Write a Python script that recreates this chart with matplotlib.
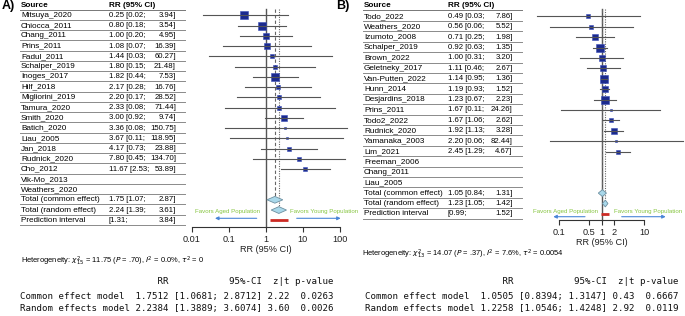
import matplotlib
matplotlib.use('Agg')
import matplotlib.pyplot as plt
from matplotlib.patches import Polygon
from matplotlib.ticker import NullLocator

# ---------------- data ----------------
studies_A = ["Mitsuya_2020", "Chiocca_2011", "Chang_2011", "Prins_2011", "Fadul_2011",
             "Schalper_2019", "Inoges_2017", "Hilf_2018", "Migliorini_2019", "Tamura_2020",
             "Smith_2020", "Batich_2020", "Liau_2005", "Jan_2018", "Rudnick_2020", "Cho_2012"]
rr_A = [0.25, 0.80, 1.00, 1.08, 1.44, 1.80, 1.82, 2.17, 2.20, 2.33, 3.00, 3.36, 3.67, 4.17, 7.80, 11.67]
lo_A = [0.02, 0.18, 0.20, 0.07, 0.03, 0.15, 0.44, 0.28, 0.17, 0.08, 0.92, 0.08, 0.11, 0.73, 0.45, 2.53]
hi_A = [3.94, 3.54, 4.95, 16.39, 60.27, 21.48, 7.53, 16.76, 28.52, 71.44, 9.74, 150.75, 118.95, 23.88, 134.70, 53.89]
weight_A = [16.0, 12.3, 9.0, 6.3, 2.8, 4.0, 13.5, 4.6, 4.0, 2.3, 8.1, 1.8, 1.8, 3.4, 2.3, 2.3]
empty_A = ["Vik-Mo_2013", "Weathers_2020"]
common_A = (1.75, 1.07, 2.87)
random_A = (2.24, 1.39, 3.61)
pred_A = (1.31, 3.84)
het_A = r"Heterogeneity: $\chi^2_{15}$ = 11.75 ($P$ = .70), $I^2$ = 0.0%, $\tau^2$ = 0"
ticks_A = [0.01, 0.1, 1, 10, 100]
ticklabels_A = ["0.01", "0.1", "1", "10", "100"]
summary_A = ["                         RR           95%-CI  z|t p-value",
             "Common effect model  1.7512 [1.0681; 2.8712] 2.22  0.0263",
             "Random effects model 2.2384 [1.3889; 3.6074] 3.60  0.0026"]

studies_B = ["Todo_2022", "Weathers_2020", "Izumoto_2008", "Schalper_2019", "Brown_2022",
             "Geletneky_2017", "Van-Putten_2022", "Hunn_2014", "Desjardins_2018", "Prins_2011",
             "Todo2_2022", "Rudnick_2020", "Yamanaka_2003", "Lim_2021"]
rr_B = [0.49, 0.56, 0.71, 0.92, 1.00, 1.11, 1.14, 1.19, 1.23, 1.67, 1.67, 1.92, 2.20, 2.45]
lo_B = [0.03, 0.06, 0.25, 0.63, 0.31, 0.46, 0.95, 0.93, 0.67, 0.11, 1.06, 1.13, 0.06, 1.29]
hi_B = [7.86, 5.52, 1.98, 1.35, 3.20, 2.67, 1.36, 1.52, 2.23, 24.26, 2.62, 3.28, 82.44, 4.67]
weight_B = [4.0, 4.6, 9.0, 16.0, 6.3, 7.0, 11.2, 8.1, 13.3, 1.3, 4.6, 6.3, 1.3, 4.0]
empty_B = ["Freeman_2006", "Chang_2011", "Liau_2005"]
common_B = (1.05, 0.84, 1.31)
random_B = (1.23, 1.05, 1.42)
pred_B = (0.99, 1.52)
het_B = r"Heterogeneity: $\chi^2_{13}$ = 14.07 ($P$ = .37), $I^2$ = 7.6%, $\tau^2$ = 0.0054"
ticks_B = [0.1, 0.5, 1, 2, 10]
ticklabels_B = ["0.1", "0.5", "1", "2", "10"]
summary_B = ["                         RR           95%-CI  z|t p-value",
             "Common effect model  1.0505 [0.8394; 1.3147] 0.43  0.6667",
             "Random effects model 1.2258 [1.0546; 1.4248] 2.92  0.0119"]

# ---------------- layout ----------------
W, H = 685, 316
fig = plt.figure(figsize=(W / 100, H / 100), dpi=100)
ov = fig.add_axes([0, 0, 1, 1])
ov.set_xlim(0, W)
ov.set_ylim(H, 0)
ov.axis('off')

SANS = ['Liberation Sans', 'DejaVu Sans']
FS = 5.85
FSN = 5.6
SQ_COL = '#1b2a8e'
DIA_COL = '#a9d8ea'
GREEN = '#86c540'
ARROW = '#4a86d8'


def panel(label, lx, tx0, rrx, rrend, lend, y0, pitch, yaxis, studies, rr, lo, hi, w, empty,
          common, random_, pred, het, hetxy, summ, sumx,
          fx0, fx1, lim, ticks, ticklabels, favors):
    def rowy(i):
        return y0 + pitch * i

    ov.text(lx, 6, label, fontsize=9, fontweight='bold', family=SANS, va='center', ha='left')
    ov.text(tx0, 5.7, "Source", fontsize=FS, fontweight='bold', family=SANS, va='center')
    ov.text(rrx, 5.7, "RR (95% CI)", fontsize=FS, fontweight='bold', family=SANS, va='center')
    ov.plot([tx0 - 1, lend], [10.2, 10.2], color='#777777', lw=0.7)
    names = list(studies) + list(empty) + ["Total (common effect)", "Total (random effect)",
                                          "Prediction interval"]
    n = len(studies)
    for i, nm in enumerate(names):
        y = rowy(i)
        ov.text(tx0, y, nm, fontsize=FS, family=SANS, va='center')
        ov.plot([tx0 - 1, lend], [y + 4.6, y + 4.6], color='#8a8a8a', lw=0.7)
    allvals = [(i, rr[i], lo[i], hi[i]) for i in range(n)]
    allvals += [(n + len(empty), *common), (n + len(empty) + 1, *random_)]
    for i, r, l, h in allvals:
        y = rowy(i)
        ov.text(rrx, y, f"{r:.2f} [{l:.2f};", fontsize=FSN, family=SANS, va='center')
        ov.text(rrend, y, f"{h:.2f}]", fontsize=FSN, family=SANS, va='center', ha='right')
    ip = n + len(empty) + 2
    ov.text(rrx, rowy(ip), f"[{pred[0]:.2f};", fontsize=FSN, family=SANS, va='center')
    ov.text(rrend, rowy(ip), f"{pred[1]:.2f}]", fontsize=FSN, family=SANS, va='center', ha='right')

    # forest axes
    ybot = yaxis
    ax = fig.add_axes([fx0 / W, (H - ybot) / H, (fx1 - fx0) / W, ybot / H])
    ax.set_xscale('log')
    ax.set_xlim(*lim)
    ax.set_ylim(ybot, 0)
    ax.patch.set_alpha(0)
    for s in ['top', 'left', 'right']:
        ax.spines[s].set_visible(False)
    ax.spines['bottom'].set_color('#333333')
    ax.spines['bottom'].set_linewidth(0.8)
    ax.set_yticks([])
    ax.set_xticks(ticks)
    ax.set_xticklabels(ticklabels)
    ax.xaxis.set_minor_locator(NullLocator())
    ax.tick_params(axis='x', direction='out', length=3.6, width=0.8, colors='#333333',
                   labelsize=6.6, pad=2.4, labelcolor='#222222')
    for t in ax.get_xticklabels():
        t.set_family(SANS)
    ax.set_xlabel("RR (95% CI)", fontsize=6.6, family=SANS, labelpad=0.6, color='#222222')

    ic = n + len(empty)
    ax.plot([1, 1], [9, ybot], color='#555555', lw=1.0, clip_on=False, zorder=1)
    ax.plot([common[0]] * 2, [9, rowy(ic) - 3.3], color='#666666', lw=0.8,
            ls=(0, (3, 2)), clip_on=False, zorder=1)
    ax.plot([random_[0]] * 2, [9, rowy(ic + 1) - 3.3], color='#666666', lw=0.8,
            ls=(0, (1, 1.2)), clip_on=False, zorder=1)

    wmax = max(w)
    for i in range(n):
        y = rowy(i)
        side = 8.4 * (w[i] / wmax) ** 0.5
        ax.plot([rr[i]], [y], marker='s', ms=side * 0.72, color=SQ_COL, mec='#3b4fb8', mew=0.4,
                clip_on=False, zorder=3)
        ax.plot([lo[i], hi[i]], [y, y], color='#555555', lw=0.8, clip_on=False, zorder=4)
    for k, (e, l, h) in enumerate([common, random_]):
        y = rowy(ic + k)
        poly = Polygon([[l, y], [e, y - 3.4], [h, y], [e, y + 3.4]], closed=True,
                       facecolor=DIA_COL, edgecolor='#6d8fa0', lw=0.6, clip_on=False, zorder=3)
        ax.add_patch(poly)
    ax.plot([pred[0], pred[1]], [rowy(ip)] * 2, color='#cc2a24', lw=2.0, clip_on=False,
            solid_capstyle='butt', zorder=3)

    # favors annotations
    (ta, ax0a, ax1a), (tb, bx0, bx1), fy, ay = favors
    ov.text(ta, fy, "Favors Aged Population", fontsize=4.4, color=GREEN, family=SANS,
            va='center', ha='center')
    ov.text(tb, fy, "Favors Young Population", fontsize=4.4, color=GREEN, family=SANS,
            va='center', ha='left')
    ov.annotate('', xy=(ax1a, ay), xytext=(ax0a, ay),
                arrowprops=dict(arrowstyle='-|>', color=ARROW, lw=0.8, mutation_scale=5,
                                shrinkA=0, shrinkB=0))
    ov.annotate('', xy=(bx1, ay), xytext=(bx0, ay),
                arrowprops=dict(arrowstyle='-|>', color=ARROW, lw=0.8, mutation_scale=5,
                                shrinkA=0, shrinkB=0))

    ov.text(hetxy[0], hetxy[1], het, fontsize=5.4, family=SANS, va='center', ha='left')
    for k, line in enumerate(summ):
        ov.text(sumx, [281.7, 297.0, 308.3][k], line, fontsize=6.6, family='DejaVu Sans Mono',
                va='center', ha='left', color='#111111')


panel("A)", 2, 21, 109, 176, 185, 15.3, 10.25, 226.7,
      studies_A, rr_A, lo_A, hi_A, weight_A, empty_A,
      common_A, random_A, pred_A, het_A, (21, 261), summary_A, 20,
      191.7, 340, (0.01, 100), ticks_A, ticklabels_A,
      ((228, 256.7, 215), (290, 296.7, 340.7), 211.0, 218.3))

panel("B)", 336, 364, 447.7, 512.7, 522, 16.3, 10.4, 219.5,
      studies_B, rr_B, lo_B, hi_B, weight_B, empty_B,
      common_B, random_B, pred_B, het_B, (362, 254), summary_B, 365,
      559, 644, (0.1, 10), ticks_B, ticklabels_B,
      ((566, 585, 553.3), (614.3, 621.7, 665.7), 211.0, 216.7))

fig.savefig("out.png", dpi=100)
